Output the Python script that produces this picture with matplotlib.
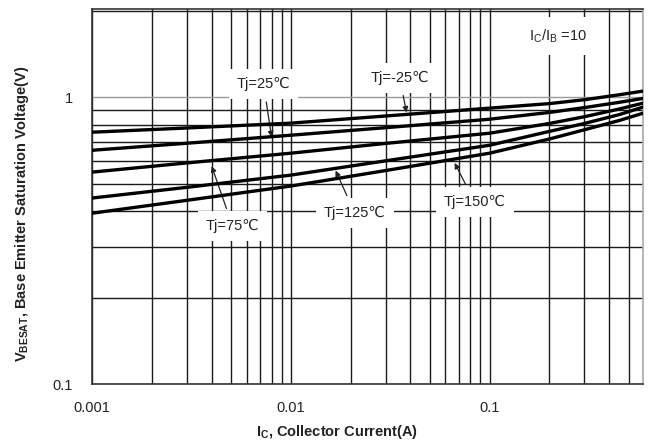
import matplotlib
matplotlib.use("Agg")
import matplotlib.pyplot as plt

# VBE(sat) vs IC, IC/IB = 10
ic = [0.001, 0.003, 0.01, 0.03, 0.1, 0.2, 0.3, 0.45, 0.59]
vbe_m25 = [0.755, 0.781, 0.812, 0.860, 0.916, 0.950, 0.980, 1.020, 1.050]
vbe_25 = [0.653, 0.691, 0.737, 0.783, 0.838, 0.885, 0.920, 0.960, 0.990]
vbe_75 = [0.548, 0.590, 0.638, 0.690, 0.749, 0.810, 0.855, 0.910, 0.953]
vbe_125 = [0.445, 0.485, 0.535, 0.600, 0.680, 0.760, 0.810, 0.870, 0.923]
vbe_150 = [0.394, 0.437, 0.490, 0.555, 0.638, 0.715, 0.770, 0.830, 0.879]

# label text, text position, arrow tip (data coords)
labels = [
    ("Tj=25\u2103", (0.0073, 1.11), (0.0080, 0.726)),
    ("Tj=-25\u2103", (0.0353, 1.17), (0.0382, 0.885)),
    ("Tj=75\u2103", (0.0051, 0.355), (0.0040, 0.575)),
    ("Tj=125\u2103", (0.0210, 0.394), (0.0168, 0.555)),
    ("Tj=150\u2103", (0.0841, 0.431), (0.0667, 0.590)),
]

fam = ["Liberation Sans", "DejaVu Sans"]
plt.rcParams["font.family"] = fam

fig = plt.figure(figsize=(6.5, 4.44), dpi=100)
ax = fig.add_axes([0.1415, 0.1351, 0.8475, 0.8446])
ax.set_xscale("log")
ax.set_yscale("log")
ax.set_xlim(0.001, 0.59)
ax.set_ylim(0.1, 2.03)

ax.set_axisbelow(True)
ax.grid(which="both", axis="x", color="#1a1a1a", lw=1.0)
ax.grid(which="minor", axis="y", color="#1a1a1a", lw=1.0)
ax.grid(which="major", axis="y", color="#9a9a9a", lw=1.0)
ax.set_xticks([0.001, 0.01, 0.1], ["0.001", "0.01", "0.1"])
ax.set_yticks([0.1, 1], ["0.1", "1"])
ax.yaxis.set_minor_formatter(matplotlib.ticker.NullFormatter())
ax.xaxis.set_minor_formatter(matplotlib.ticker.NullFormatter())
ax.tick_params(which="both", length=0, labelsize=10.5, colors="#222222")
ax.tick_params(axis="y", pad=14)
ax.tick_params(axis="x", pad=12)
for s in ax.spines.values():
    s.set_color("#333333")
    s.set_linewidth(1.2)
ax.spines["right"].set_color("#aaaaaa")

for v in (vbe_m25, vbe_25, vbe_75, vbe_125, vbe_150):
    ax.plot(ic, v, color="black", lw=2.4, zorder=4)

for txt, xy_text, xy_tip in labels:
    ax.annotate(txt, xy=xy_tip, xytext=xy_text, ha="center", va="center",
                fontsize=10.5, color="#222222", zorder=3,
                bbox=dict(boxstyle="square,pad=0.55", fc="white", ec="none"),
                arrowprops=dict(arrowstyle="-|>", color="#222222", lw=0.9,
                                mutation_scale=8, shrinkA=2, shrinkB=0))

ax.text(0.22, 1.63, r"I$_\mathregular{C}$/I$_\mathregular{B}$ =10", ha="center",
        va="center", fontsize=10.5, color="#222222", zorder=3,
        bbox=dict(boxstyle="square,pad=0.7", fc="white", ec="none"))

ax.set_xlabel(r"I$_\mathregular{C}$, Collector Current(A)", fontsize=10.5,
              fontweight="bold", color="#222222", va="center")
ax.set_ylabel(r"V$_\mathregular{BESAT}$, Base Emitter Saturation Voltage(V)",
              fontsize=10.5, fontweight="bold", color="#222222", va="center")
ax.xaxis.set_label_coords(0.445, -0.128)
ax.yaxis.set_label_coords(-0.127, 0.455)

fig.savefig("out.png", dpi=100)
